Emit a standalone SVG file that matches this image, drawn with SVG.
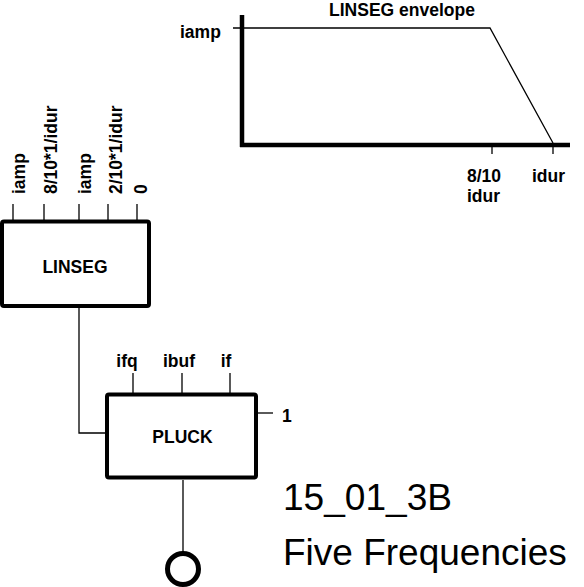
<svg xmlns="http://www.w3.org/2000/svg" width="584" height="587" viewBox="0 0 584 587">
<style>
  .box { fill: #fff; stroke: #000; stroke-width: 4; }
  .thin { stroke: #000; stroke-width: 1.3; fill: none; }
  .axis { stroke: #000; stroke-width: 4.5; fill: none; }
  .lbl { font-family: "Liberation Sans", Arial, sans-serif; font-weight: bold; font-size: 17.5px; fill: #000; }
  .big { font-family: "Liberation Sans", Arial, sans-serif; font-size: 37px; fill: #000; }
</style>
<rect width="584" height="587" fill="#fff"/>

<g id="envelope">
  <line class="axis" x1="242" y1="15" x2="242" y2="147"/>
  <line class="axis" x1="240" y1="145" x2="570" y2="145"/>
  <polyline class="thin" points="233,28 490,28 553,143"/>
  <line class="thin" x1="492" y1="145" x2="492" y2="154"/>
  <line class="thin" x1="553" y1="145" x2="553" y2="154"/>
  <text class="lbl" x="402" y="16" text-anchor="middle">LINSEG envelope</text>
  <text class="lbl" x="180" y="38">iamp</text>
  <text class="lbl" x="467" y="182">8/10</text>
  <text class="lbl" x="467" y="202">idur</text>
  <text class="lbl" x="532" y="182">idur</text>
</g>

<g id="connectors">
  <polyline class="thin" points="79,308 79,433 105,433"/>
  <line class="thin" x1="183" y1="480" x2="183" y2="553"/>
  <line class="thin" x1="13" y1="204" x2="13" y2="220"/>
  <line class="thin" x1="44" y1="204" x2="44" y2="220"/>
  <line class="thin" x1="79" y1="204" x2="79" y2="220"/>
  <line class="thin" x1="108" y1="204" x2="108" y2="220"/>
  <line class="thin" x1="137" y1="204" x2="137" y2="220"/>
  <line class="thin" x1="133" y1="373" x2="133" y2="393"/>
  <line class="thin" x1="182" y1="373" x2="182" y2="393"/>
  <line class="thin" x1="230" y1="373" x2="230" y2="393"/>
  <line class="thin" x1="258" y1="413" x2="273" y2="413"/>
</g>

<g id="linseg">
  <rect class="box" x="2" y="221.5" width="147" height="84.5" rx="2"/>
  <text class="lbl" x="75" y="273" text-anchor="middle">LINSEG</text>
  <text class="lbl" transform="translate(25,194) rotate(-90)">iamp</text>
  <text class="lbl" transform="translate(57,194) rotate(-90)">8/10*1/idur</text>
  <text class="lbl" transform="translate(91,194) rotate(-90)">iamp</text>
  <text class="lbl" transform="translate(122,194) rotate(-90)">2/10*1/idur</text>
  <text class="lbl" transform="translate(147,194) rotate(-90)">0</text>
</g>

<g id="pluck">
  <rect class="box" x="107" y="394.5" width="149" height="83" rx="2"/>
  <text class="lbl" x="182.5" y="443" text-anchor="middle">PLUCK</text>
  <text class="lbl" x="127" y="367" text-anchor="middle">ifq</text>
  <text class="lbl" x="179" y="367" text-anchor="middle">ibuf</text>
  <text class="lbl" x="226" y="367" text-anchor="middle">if</text>
  <text class="lbl" x="282" y="422">1</text>
</g>

<g id="output">
  <circle cx="183" cy="569" r="15.5" fill="none" stroke="#000" stroke-width="5"/>
</g>

<g id="caption">
  <text class="big" x="283" y="510" textLength="169" lengthAdjust="spacingAndGlyphs">15_01_3B</text>
  <text class="big" x="283" y="565">Five Frequencies</text>
</g>
</svg>
